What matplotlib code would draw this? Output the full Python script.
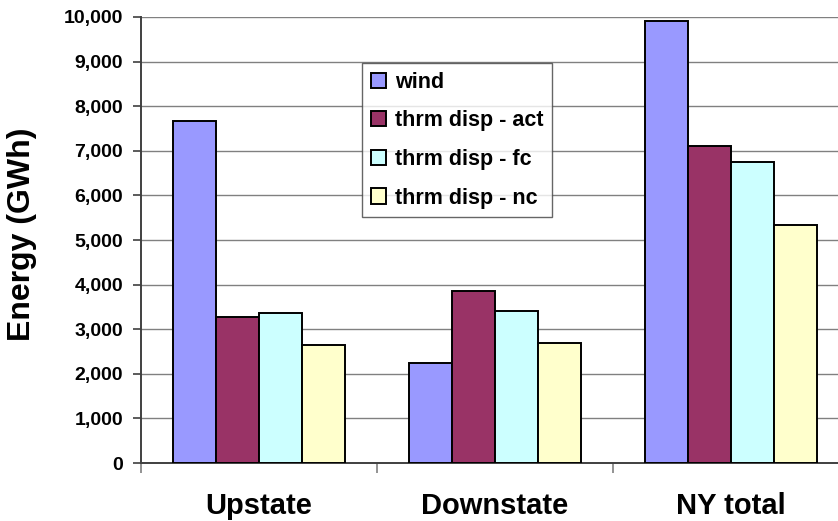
import matplotlib
matplotlib.use("Agg")
import matplotlib.pyplot as plt
import numpy as np
from matplotlib.ticker import FuncFormatter, MultipleLocator

categories = ["Upstate", "Downstate", "NY total"]
series_names = ["wind", "thrm disp - act", "thrm disp - fc", "thrm disp - nc"]
wind = [7668, 2241, 9904]
thrm_act = [3264, 3854, 7118]
thrm_fc = [3361, 3399, 6760]
thrm_nc = [2644, 2689, 5326]
colors = ["#9999FF", "#993366", "#CCFFFF", "#FFFFCC"]

plt.rcParams['font.family'] = ['Liberation Sans', 'DejaVu Sans']
plt.rcParams['font.weight'] = 'bold'

fig = plt.figure(figsize=(8.38, 5.21), dpi=100)
W, H = 838, 521
ax = fig.add_axes([141 / W, 1 - 463 / H, (849 - 141) / W, (463 - 17) / H])

x = np.arange(len(categories))
bw = 0.182
data = [wind, thrm_act, thrm_fc, thrm_nc]
for i, (vals, c, name) in enumerate(zip(data, colors, series_names)):
    ax.bar(x + (i - 1.5) * bw, vals, width=bw, color=c, edgecolor='black',
           linewidth=1.4, label=name, zorder=3)

ax.set_xlim(-0.5, 2.5)
ax.set_ylim(0, 10000)
ax.yaxis.set_major_locator(MultipleLocator(1000))
ax.yaxis.set_major_formatter(FuncFormatter(lambda v, p: f"{int(v):,}"))
ax.grid(axis='y', color='#808080', linewidth=1.0, zorder=0)

ax.set_xticks(x)
ax.set_xticklabels(categories, fontsize=21, fontweight='bold')
ax.set_xticks([-0.5, 0.5, 1.5], minor=True)
ax.tick_params(axis='x', which='major', length=0, pad=21)
ax.tick_params(axis='x', which='minor', length=7, width=1.2, color='#808080')
ax.tick_params(axis='y', length=6, width=1.2, color='#404040', labelsize=14, pad=7)
for lab in ax.get_yticklabels():
    lab.set_fontweight('bold')

for s in ['top', 'right']:
    ax.spines[s].set_visible(False)
ax.spines['left'].set_color('#404040')
ax.spines['left'].set_linewidth(1.4)
ax.spines['bottom'].set_color('#404040')
ax.spines['bottom'].set_linewidth(1.4)

fig.text(22 / W, 1 - 234 / H, "Energy (GWh)", rotation=90, fontsize=23,
         fontweight='bold', ha='center', va='center')

leg = ax.legend(loc='upper left', bbox_to_anchor=(362 / W, 1 - 63 / H),
                bbox_transform=fig.transFigure, frameon=True, fancybox=False,
                borderaxespad=0, prop={'size': 15.5, 'weight': 'bold'},
                handlelength=0.7, handleheight=0.7, handletextpad=0.45,
                labelspacing=0.82, borderpad=0.4)
leg.get_frame().set_edgecolor('#404040')
leg.get_frame().set_linewidth(1.0)
leg.set_zorder(5)

fig.savefig("out.png", dpi=100)
